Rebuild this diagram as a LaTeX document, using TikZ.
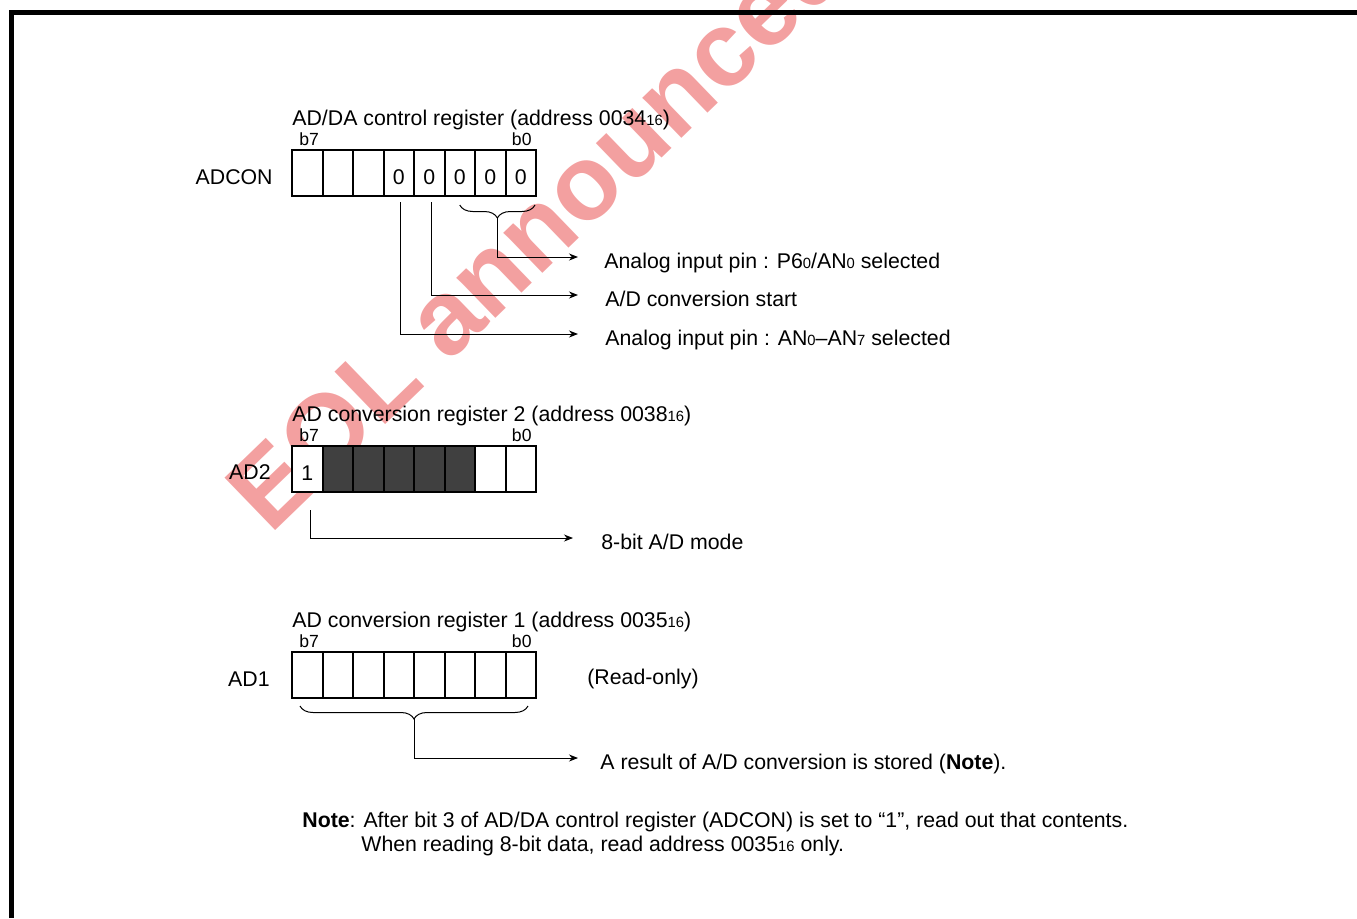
\documentclass[tikz,border=0pt]{standalone}
\usepackage{fontspec}
\setmainfont{Liberation Sans}
\usepackage{tikz}
\usetikzlibrary{arrows.meta,positioning,calc,decorations.pathreplacing}
\definecolor{cInk}{HTML}{000000}
\definecolor{cShade}{HTML}{404040}
\definecolor{cWater}{HTML}{F3A0A0}
\newcommand{\regfont}{\fontsize{10.65pt}{12.8pt}\selectfont}
\newcommand{\bitfont}{\fontsize{8.8pt}{10pt}\selectfont}
\newcommand{\hsub}[1]{{\fontsize{7.4pt}{8pt}\selectfont #1}}
\tikzset{
  cell/.style={draw=cInk,fill=#1,line width=1pt,minimum width=15.25pt,minimum height=23pt,inner sep=0pt,outer sep=0pt,font=\regfont,text height=11.5pt,text depth=0pt},
  cell/.default=white,
  ttl/.style={font=\regfont,anchor=base west,inner sep=0pt},
  bitlbl/.style={font=\bitfont,anchor=base,inner sep=0pt},
  reglbl/.style={font=\regfont,anchor=base east,inner sep=0pt},
  desc/.style={font=\regfont,anchor=west,inner sep=0pt,text height=11pt,text depth=0pt},
  arr/.style={-{Stealth[length=4.5pt,width=3.5pt]},line width=0.5pt,color=cInk},
  brc/.style={decorate,decoration={brace,mirror,amplitude=6.5pt},line width=0.5pt,color=cInk},
}

\begin{document}
\begin{tikzpicture}[x=0.5pt,y=-0.5pt]
  \useasboundingbox (0,0) rectangle (1357,918);
  % watermark and frame
  \node[font=\fontsize{53pt}{60pt}\selectfont\bfseries,text=cWater,rotate=44,anchor=base west,inner sep=0pt] (wmark) at (270,536) {EOL announced};
  \draw[line width=2.5pt] (11.5,918) -- (11.5,12.5) -- (1357,12.5);

  % ADCON
  \foreach \i/\v in {1/{},2/{},3/{},4/0,5/0,6/0,7/0,8/0}{\node[cell] (adc\i) at ({292+30.5*(\i-0.5)},173) {\v};}
  \node[ttl] (adcttl) at ([yshift=12.5pt]adc1.north west) {AD/DA control register (address 0034\hsub{16})};
  \node[bitlbl] (adcb7) at ([xshift=1pt,yshift=2.5pt]adc1.north) {b7};
  \node[bitlbl] (adcb0) at ([xshift=0.5pt,yshift=2.5pt]adc8.north) {b0};
  \node[reglbl] (adclbl) at ([xshift=-9.5pt,yshift=-5.6pt]adc1.west) {ADCON};
  \node[desc] (adcd1) at (604,257) {Analog input pin : P6\hsub{0}/AN\hsub{0} selected};
  \node[desc] (adcd2) at (605,295) {A/D conversion start};
  \node[desc] (adcd3) at (605,334) {Analog input pin : AN\hsub{0}--AN\hsub{7} selected};
  \coordinate (adcbl) at ([yshift=-4.5pt]adc6.south);
  \coordinate (adcbr) at ([xshift=-0.5pt,yshift=-4.5pt]adc8.south east);
  \draw[brc] (adcbl) -- (adcbr);
  \coordinate (adctip) at ($(adcbl)!0.5!(adcbr)+(0,13)$);
  \draw[arr] (adctip) |- ([xshift=-13pt]adcd1.west);
  \draw[arr] ([xshift=1.1pt,yshift=-3pt]adc5.south) |- ([xshift=-13.5pt]adcd2.west);
  \draw[arr] ([xshift=1.1pt,yshift=-3pt]adc4.south) |- ([xshift=-13.5pt]adcd3.west);

  % AD2
  \foreach \i/\f/\v in {1/white/1,2/cShade/{},3/cShade/{},4/cShade/{},5/cShade/{},6/cShade/{},7/white/{},8/white/{}}{\node[cell=\f] (ad2c\i) at ({292+30.5*(\i-0.5)},469) {\v};}
  \node[ttl] (ad2ttl) at ([yshift=12.5pt]ad2c1.north west) {AD conversion register 2 (address 0038\hsub{16})};
  \node[bitlbl] (ad2b7) at ([xshift=1pt,yshift=2.5pt]ad2c1.north) {b7};
  \node[bitlbl] (ad2b0) at ([xshift=0.5pt,yshift=2.5pt]ad2c8.north) {b0};
  \node[reglbl] (ad2lbl) at ([xshift=-10.5pt,yshift=-5.3pt]ad2c1.west) {AD2};
  \node[desc] (ad2d) at (601,538) {8-bit A/D mode};
  \draw[arr] ([xshift=1.4pt,yshift=-9pt]ad2c1.south) |- ([xshift=-14pt]ad2d.west);

  % AD1
  \foreach \i in {1,...,8}{\node[cell] (ad1c\i) at ({292+30.5*(\i-0.5)},675) {};}
  \node[ttl] (ad1ttl) at ([yshift=12.5pt]ad1c1.north west) {AD conversion register 1 (address 0035\hsub{16})};
  \node[bitlbl] (ad1b7) at ([xshift=1pt,yshift=2.5pt]ad1c1.north) {b7};
  \node[bitlbl] (ad1b0) at ([xshift=0.5pt,yshift=2.5pt]ad1c8.north) {b0};
  \node[reglbl] (ad1lbl) at ([xshift=-11pt,yshift=-5.8pt]ad1c1.west) {AD1};
  \node[desc] (ad1ro) at (587,673) {(Read-only)};
  \node[desc] (ad1d) at (600,758) {A result of A/D conversion is stored (\textbf{Note}).};
  \coordinate (ad1bl) at ([xshift=4pt,yshift=-4pt]ad1c1.south west);
  \coordinate (ad1br) at ([xshift=-4pt,yshift=-4pt]ad1c8.south east);
  \draw[brc] (ad1bl) -- (ad1br);
  \coordinate (ad1tip) at ($(ad1bl)!0.5!(ad1br)+(0,13)$);
  \draw[arr] (ad1tip) |- ([xshift=-11pt]ad1d.west);

  % note
  \node[ttl] (note1) at (302,827.5) {\textbf{Note}: After bit 3 of AD/DA control register (ADCON) is set to “1”, read out that contents.};
  \node[ttl] (note2) at ([xshift=29.5pt,yshift=-12pt]note1.base west) {When reading 8-bit data, read address 0035\hsub{16} only.};
\end{tikzpicture}
\end{document}
